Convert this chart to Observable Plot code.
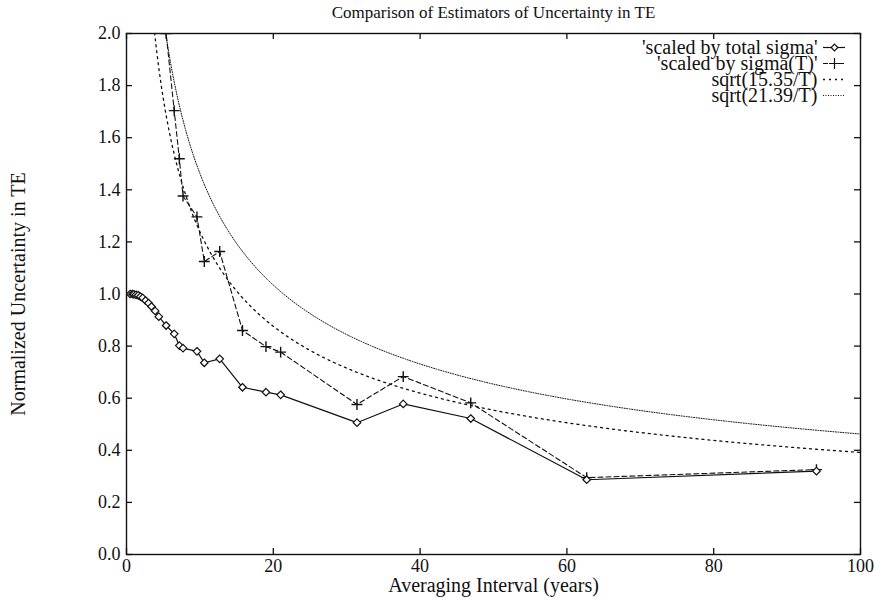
<!DOCTYPE html>
<html><head><meta charset="utf-8">
<script src="https://cdn.jsdelivr.net/npm/d3@7"></script>
<script src="https://cdn.jsdelivr.net/npm/@observablehq/plot@0.6"></script>
<style>
body{margin:0;background:#fff}
svg, svg text {font-family: "Liberation Serif", "DejaVu Serif", serif !important;}
</style>
</head><body><div id="chart"></div>
<script>
const title = "Comparison of Estimators of Uncertainty in TE";
const xLabel = "Averaging Interval (years)";
const yLabel = "Normalized Uncertainty in TE";
const xTicks = [0, 20, 40, 60, 80, 100];
const yTicks = [0, 0.2, 0.4, 0.6, 0.8, 1.0, 1.2, 1.4, 1.6, 1.8, 2.0];
const seriesNames = ["'scaled by total sigma'", "'scaled by sigma(T)'", "sqrt(15.35/T)", "sqrt(21.39/T)"];

// 'scaled by total sigma'
const totalT = [0.5, 0.8, 1.0, 1.3, 1.6, 1.9, 2.2, 2.6, 3.0, 3.4, 3.9, 4.4, 5.4, 6.5, 7.2, 7.7, 9.6, 10.6, 12.7, 15.8, 19.0, 21.0, 31.4, 37.7, 46.9, 62.7, 94.0];
const totalY = [1.0, 1.0, 0.999, 0.997, 0.995, 0.99, 0.985, 0.975, 0.965, 0.952, 0.935, 0.913, 0.879, 0.847, 0.802, 0.792, 0.780, 0.736, 0.751, 0.642, 0.623, 0.613, 0.506, 0.578, 0.522, 0.287, 0.320];

// 'scaled by sigma(T)'
const sigmaT = [4.4, 5.4, 6.5, 7.2, 7.7, 9.6, 10.6, 12.7, 15.8, 19.0, 21.0, 31.4, 37.7, 46.9, 62.7, 94.0];
const sigmaY = [2.45, 2.0, 1.704, 1.519, 1.376, 1.296, 1.125, 1.163, 0.860, 0.798, 0.777, 0.576, 0.683, 0.582, 0.295, 0.326];

// sqrt(c/T) curves
const curveCoefs = [15.35, 21.39];
const curveT = d3.range(3.5, 100.001, 0.25);

const total = totalT.map((t, i) => ({t, v: totalY[i]}));
const sigma = sigmaT.map((t, i) => ({t, v: sigmaY[i]}));
const curves = curveCoefs.map(c => curveT.map(t => ({t, v: Math.sqrt(c / t)})));

const W = 876, H = 603;
const mL = 126, mR = 16, mT = 33, mB = 49;
const innerH = H - mT - mB, innerW = W - mL - mR;
const tick = 6;

const legendStyles = [
  {dash: null, symbol: "diamond2", sw: 1.2},
  {dash: "5,3", symbol: "plus", sw: 1.1},
  {dash: "2,4", symbol: null, sw: 1.3},
  {dash: "1,1.5", symbol: null, sw: 1.0}
];
const rowPx = [14, 30, 46, 62];
const legend = seriesNames.map((name, i) => ({
  name, ...legendStyles[i],
  y: 2.0 - rowPx[i] / (innerH / 2)
}));
const lx1 = (823 - mL) / innerW * 100, lx2 = (845 - mL) / innerW * 100;

const ink = "#111";
const font = "Liberation Serif";

const plot = Plot.plot({
  width: W, height: H,
  marginLeft: mL, marginRight: mR, marginTop: mT, marginBottom: mB,
  style: {fontFamily: font, fontSize: "18px", color: ink, background: "#fff"},
  x: {domain: [0, 100]},
  y: {domain: [0, 2]},
  marks: [
    Plot.axisX(xTicks, {tickSize: 0, tickPadding: 5, label: null, fontSize: 18, fontFamily: font}),
    Plot.axisY(yTicks, {tickSize: 0, tickPadding: 6, tickFormat: d3.format(".1f"), label: null, fontSize: 18, fontFamily: font}),
    // inward ticks (mirrored)
    Plot.tickX(xTicks, {x: d => d, insetTop: innerH - tick, stroke: ink, strokeWidth: 1.3}),
    Plot.tickX(xTicks, {x: d => d, insetBottom: innerH - tick, stroke: ink, strokeWidth: 1.3}),
    Plot.tickY(yTicks, {y: d => d, insetRight: innerW - tick, stroke: ink, strokeWidth: 1.3}),
    Plot.tickY(yTicks, {y: d => d, insetLeft: innerW - tick, stroke: ink, strokeWidth: 1.3}),
    // curves
    Plot.line(curves[0], {x: "t", y: "v", stroke: ink, strokeWidth: 1.3, strokeDasharray: "2,4", clip: true}),
    Plot.line(curves[1], {x: "t", y: "v", stroke: ink, strokeWidth: 1.0, strokeDasharray: "1,1.5", clip: true}),
    // sigma(T)
    Plot.line(sigma, {x: "t", y: "v", stroke: ink, strokeWidth: 1.1, strokeDasharray: "5,3", clip: true}),
    Plot.dot(sigma, {x: "t", y: "v", symbol: "plus", r: 3.6, stroke: ink, strokeWidth: 1.4, clip: true}),
    // total sigma
    Plot.line(total, {x: "t", y: "v", stroke: ink, strokeWidth: 1.2, clip: true}),
    Plot.dot(total, {x: "t", y: "v", symbol: "diamond2", r: 3.4, stroke: ink, strokeWidth: 1.2, fill: "white", clip: true}),
    // frame
    Plot.frame({stroke: ink, strokeWidth: 1.4}),
    // legend
    Plot.text(legend, {text: "name", x: lx1, y: "y", dx: -6, textAnchor: "end", lineAnchor: "middle", fontSize: 20, fontFamily: font, fill: ink}),
    ...legend.map(d => Plot.ruleY([d], {y: "y", x1: lx1, x2: lx2, stroke: ink, strokeWidth: d.sw, strokeDasharray: d.dash})),
    ...legend.filter(d => d.symbol).map(d => Plot.dot([d], {x: (lx1 + lx2) / 2, y: "y", symbol: d.symbol, r: d.symbol === "plus" ? 3.6 : 3.0, stroke: ink, strokeWidth: 1.2, fill: d.symbol === "plus" ? null : "white"})),
    // titles
    Plot.text([title], {frameAnchor: "top", dy: -21, lineAnchor: "middle", fontSize: 17, fontFamily: font, fill: ink}),
    Plot.text([xLabel], {frameAnchor: "bottom", dy: 31, lineAnchor: "middle", fontSize: 20, fontFamily: font, fill: ink}),
    Plot.text([yLabel], {frameAnchor: "left", dx: -108, rotate: -90, textAnchor: "middle", lineAnchor: "middle", fontSize: 20, fontFamily: font, fill: ink})
  ]
});
document.getElementById("chart").append(plot);
</script>
</body></html>
